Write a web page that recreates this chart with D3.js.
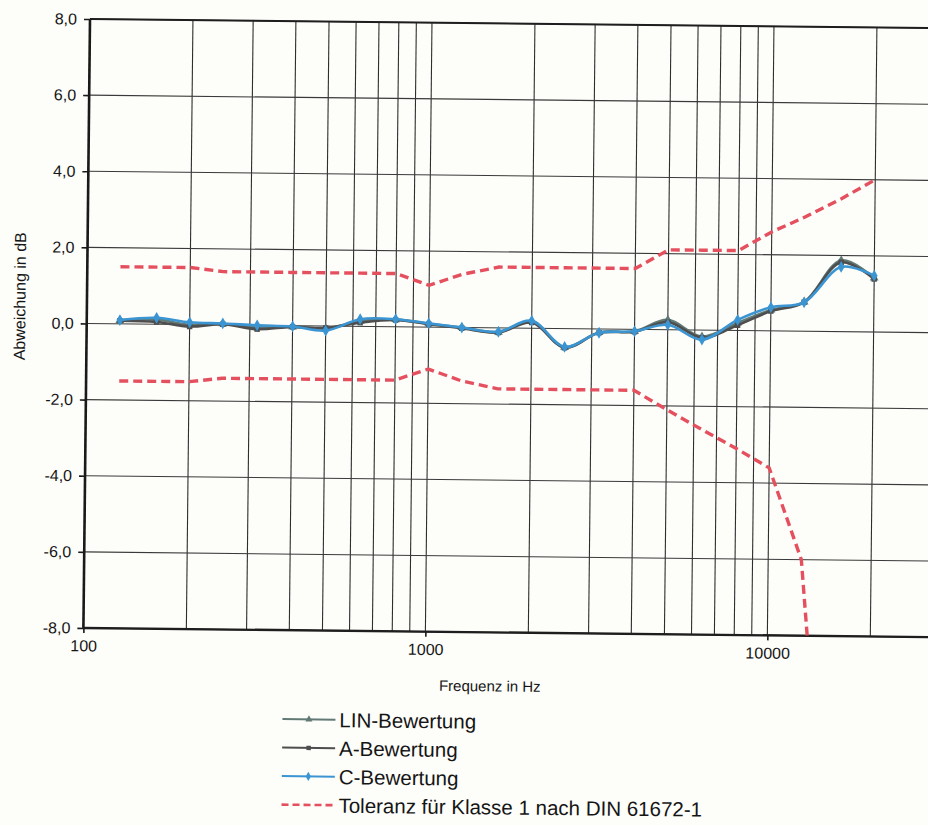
<!DOCTYPE html>
<html>
<head>
<meta charset="utf-8">
<script src="https://cdn.jsdelivr.net/npm/d3@7"></script>
<style>
  html, body { margin: 0; padding: 0; background: #fdfdfa; }
  svg { display: block; }
  text { font-family: "Liberation Sans", Arial, sans-serif; fill: #151515; }
</style>
</head>
<body>
<svg id="chart" width="928" height="825"></svg>
<script>
// Third-octave centre frequencies (Hz)
const freqs = [125, 160, 200, 250, 315, 400, 500, 630, 800, 1000, 1250, 1600,
               2000, 2500, 3150, 4000, 5000, 6300, 8000, 10000, 12500, 16000, 20000];

// Measured deviation in dB per weighting
const linValues = [0.09, 0.12, 0.00, 0.03, -0.05, -0.03, -0.06, 0.14, 0.19, 0.09, 0.00, -0.11,
                   0.18, -0.49, -0.09, -0.05, 0.26, -0.17, 0.20, 0.55, 0.77, 1.87, 1.42];
const aValues   = [0.08, 0.06, -0.05, 0.02, -0.10, -0.03, -0.05, 0.10, 0.18, 0.08, -0.02, -0.12,
                   0.15, -0.50, -0.10, -0.06, 0.20, -0.20, 0.14, 0.52, 0.76, 1.82, 1.39];
const cValues   = [0.10, 0.17, 0.06, 0.04, 0.00, -0.02, -0.12, 0.19, 0.20, 0.10, 0.00, -0.10,
                   0.20, -0.48, -0.10, -0.05, 0.13, -0.25, 0.28, 0.62, 0.76, 1.70, 1.48];

// Class 1 tolerance limits (DIN EN 61672-1); null = no lower limit
const tolUpper = [1.5, 1.5, 1.5, 1.4, 1.4, 1.4, 1.4, 1.4, 1.4, 1.1, 1.4, 1.6,
                  1.6, 1.6, 1.6, 1.6, 2.1, 2.1, 2.1, 2.6, 3.0, 3.5, 4.0];
const tolLower = [-1.5, -1.5, -1.5, -1.4, -1.4, -1.4, -1.4, -1.4, -1.4, -1.1, -1.4, -1.6,
                  -1.6, -1.6, -1.6, -1.6, -2.1, -2.6, -3.1, -3.6, -6.0, -17.0, null];

// Axis ticks
const yTicks = [-8, -6, -4, -2, 0, 2, 4, 6, 8];
const xTickLabels = [100, 1000, 10000];

const seriesNames = ["LIN-Bewertung", "A-Bewertung", "C-Bewertung",
                     "Toleranz für Klasse 1 nach DIN 61672-1"];

const colors = { lin: "#617a76", a: "#4e4e4e", c: "#3b95d2", tol: "#e5505f" };

const svg = d3.select("#chart");
const marginLeft = 90, marginTop = 19;
const plotW = 1026, plotH = 609;

const x = d3.scaleLog().domain([100, 100000]).range([0, plotW]);
const y = d3.scaleLinear().domain([-8, 8]).range([plotH, 0]);

const deLocale = d3.formatLocale({ decimal: ",", thousands: ".", grouping: [3],
                                   currency: ["", " €"], minus: "-" });
const fmtY = deLocale.format(".1f");

// whole sheet sits slightly skewed, like a scanned page
const sheet = svg.append("g").attr("transform", `rotate(0.62 ${marginLeft} ${marginTop})`);
const g = sheet.append("g").attr("transform", `translate(${marginLeft},${marginTop})`);

g.append("defs").append("clipPath").attr("id", "plotClip")
  .append("rect").attr("x", 0).attr("y", 0).attr("width", plotW).attr("height", plotH);

// grid
g.append("g").selectAll("line").data(x.ticks()).join("line")
  .attr("x1", d => x(d)).attr("x2", d => x(d))
  .attr("y1", 0).attr("y2", plotH)
  .attr("stroke", "#2e2e2e").attr("stroke-width", 1.1);
g.append("g").selectAll("line").data(yTicks).join("line")
  .attr("x1", 0).attr("x2", plotW)
  .attr("y1", d => y(d)).attr("y2", d => y(d))
  .attr("stroke", "#3a3a3a").attr("stroke-width", 1.1);

// frame
g.append("line").attr("x1", 0).attr("x2", plotW).attr("y1", 0).attr("y2", 0)
  .attr("stroke", "#1e1e1e").attr("stroke-width", 2);
g.append("line").attr("x1", 0).attr("x2", plotW).attr("y1", plotH).attr("y2", plotH)
  .attr("stroke", "#1e1e1e").attr("stroke-width", 2.4);
g.append("line").attr("x1", 0).attr("x2", 0).attr("y1", 0).attr("y2", plotH)
  .attr("stroke", "#1a1a1a").attr("stroke-width", 2.6);

// axes
const yAxis = g.append("g")
  .call(d3.axisLeft(y).tickValues(yTicks).tickFormat(fmtY).tickSize(6).tickPadding(7));
yAxis.select(".domain").remove();
yAxis.selectAll(".tick line").attr("stroke", "#1a1a1a").attr("stroke-width", 1.6);
yAxis.selectAll(".tick text").attr("font-size", 16).style("font-family", "Liberation Sans, Arial, sans-serif").attr("fill", "#151515");

const xAxis = g.append("g").attr("transform", `translate(0,${plotH})`)
  .call(d3.axisBottom(x).tickValues(xTickLabels).tickFormat(d3.format("d")).tickSize(5).tickPadding(7));
xAxis.select(".domain").remove();
xAxis.selectAll(".tick line").attr("stroke", "#1a1a1a").attr("stroke-width", 1.6);
xAxis.selectAll(".tick text").attr("font-size", 16).style("font-family", "Liberation Sans, Arial, sans-serif").attr("fill", "#151515");

// axis titles
g.append("text").attr("x", 407).attr("y", 668)
  .attr("text-anchor", "middle").attr("font-size", 15).text("Frequenz in Hz");
g.append("text").attr("transform", `translate(${23 - marginLeft},${278}) rotate(-90)`)
  .attr("text-anchor", "middle").attr("dominant-baseline", "central")
  .attr("font-size", 16).text("Abweichung in dB");

// series
const plot = g.append("g").attr("clip-path", "url(#plotClip)");

function lineFor(values, curve) {
  return d3.line()
    .defined((d, i) => values[i] !== null)
    .x((d, i) => x(freqs[i]))
    .y((d, i) => y(values[i]))
    .curve(curve)(freqs);
}

// tolerance limits: straight segments between the specified points
plot.append("path").attr("d", lineFor(tolUpper, d3.curveLinear)).attr("fill", "none")
  .attr("stroke", colors.tol).attr("stroke-width", 3.4).attr("stroke-dasharray", "9,5");
plot.append("path").attr("d", lineFor(tolLower, d3.curveLinear)).attr("fill", "none")
  .attr("stroke", colors.tol).attr("stroke-width", 3.4).attr("stroke-dasharray", "9,5");

const series = [
  { values: linValues, color: colors.lin, symbol: d3.symbolTriangle, size: 34 },
  { values: aValues,   color: colors.a,   symbol: d3.symbolSquare,   size: 30 },
  { values: cValues,   color: colors.c,   symbol: d3.symbolDiamond,  size: 40 }
];

// measurement series: smoothed curves through the points
const smooth = d3.curveCatmullRom.alpha(0.5);
series.forEach(s => {
  plot.append("path").attr("d", lineFor(s.values, smooth)).attr("fill", "none")
    .attr("stroke", s.color).attr("stroke-width", 2.6);
  plot.append("g").selectAll("path").data(freqs).join("path")
    .attr("transform", (d, i) => `translate(${x(d)},${y(s.values[i])})`)
    .attr("d", d3.symbol().type(s.symbol).size(s.size))
    .attr("fill", s.color);
});

// legend
const legend = g.append("g").attr("transform", `translate(${290 - marginLeft},${717 - marginTop})`);
const rowH = 28.5;
const legendItems = [
  { name: seriesNames[0], color: colors.lin, symbol: d3.symbolTriangle, size: 22 },
  { name: seriesNames[1], color: colors.a,   symbol: d3.symbolSquare,   size: 20 },
  { name: seriesNames[2], color: colors.c,   symbol: d3.symbolDiamond,  size: 24 },
  { name: seriesNames[3], color: colors.tol, dashed: true }
];
legendItems.forEach((it, i) => {
  const row = legend.append("g").attr("transform", `translate(0,${i * rowH})`);
  row.append("line").attr("x1", 0).attr("x2", 53).attr("y1", 0).attr("y2", 0)
    .attr("stroke", it.color).attr("stroke-width", it.dashed ? 2.6 : 2)
    .attr("stroke-dasharray", it.dashed ? "7,4" : null);
  if (it.symbol) {
    row.append("path").attr("transform", "translate(26.5,0)")
      .attr("d", d3.symbol().type(it.symbol).size(it.size)).attr("fill", it.color);
  }
  row.append("text").attr("x", 57).attr("y", 0).attr("dominant-baseline", "central")
    .attr("font-size", 20.5).text(it.name);
});
</script>
</body>
</html>
